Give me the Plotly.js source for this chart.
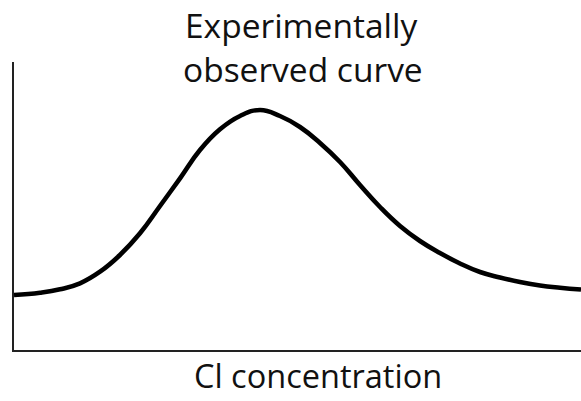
<!DOCTYPE html>
<html>
<head>
<meta charset="utf-8">
<script src="https://cdn.plot.ly/plotly-3.0.1.min.js"></script>
<style>html,body{margin:0;padding:0;background:#fff;}#chart{width:581px;height:401px;}</style>
</head>
<body>
<div id="chart"></div>
<script>
// Cl concentration (arbitrary units, 0-100)
var concentration = [0, 4.59, 8.11, 11.64, 15.17, 18.69, 22.22, 25.75, 29.28, 32.80, 36.33, 39.86, 43.39, 46.91, 50.44, 53.97, 57.50, 61.02, 64.55, 68.08, 71.60, 75.13, 78.66, 82.19, 85.71, 89.24, 92.77, 96.30, 100];
// Observed response (arbitrary units, 0-100)
var observed = [19.10, 19.90, 21.08, 23.16, 27.19, 32.99, 40.52, 50.00, 59.62, 69.44, 76.63, 81.25, 83.33, 81.25, 77.43, 71.88, 65.28, 57.29, 49.65, 43.06, 37.85, 33.68, 30.03, 27.08, 25.17, 23.61, 22.40, 21.63, 21.01];
var titleLines = ['Experimentally', 'observed curve'];
var xLabel = 'Cl concentration';

var trace = {
  x: concentration, y: observed, type: 'scatter', mode: 'lines',
  line: {color: '#000', width: 4.6, shape: 'spline', smoothing: 1.3},
  hoverinfo: 'skip'
};
var txtFont = {family: 'Open Sans, sans-serif', size: 33.5, color: '#111'};
var layout = {
  width: 581, height: 401,
  margin: {l: 14, r: 0, t: 62, b: 51},
  paper_bgcolor: '#fff', plot_bgcolor: '#fff',
  showlegend: false,
  font: {family: 'Open Sans, sans-serif', color: '#000'},
  xaxis: {range: [0, 100], showline: true, linecolor: '#222', linewidth: 2, showgrid: false, zeroline: false, showticklabels: false, ticks: ''},
  yaxis: {range: [0, 100], showline: true, linecolor: '#222', linewidth: 2, showgrid: false, zeroline: false, showticklabels: false, ticks: ''},
  annotations: [
    {text: titleLines[0], xref: 'paper', yref: 'paper', x: 0.507, y: 1.13, xanchor: 'center', yanchor: 'middle', showarrow: false, font: txtFont},
    {text: titleLines[1], xref: 'paper', yref: 'paper', x: 0.51, y: 0.976, xanchor: 'center', yanchor: 'middle', showarrow: false, font: txtFont},
    {text: xLabel, xref: 'paper', yref: 'paper', x: 0.536, y: -0.1715, xanchor: 'center', yanchor: 'bottom', borderpad: 0, showarrow: false, font: {family: 'Open Sans, sans-serif', size: 32.5, color: '#111'}}
  ]
};
Plotly.newPlot('chart', [trace], layout, {displayModeBar: false, staticPlot: true});
</script>
</body>
</html>
